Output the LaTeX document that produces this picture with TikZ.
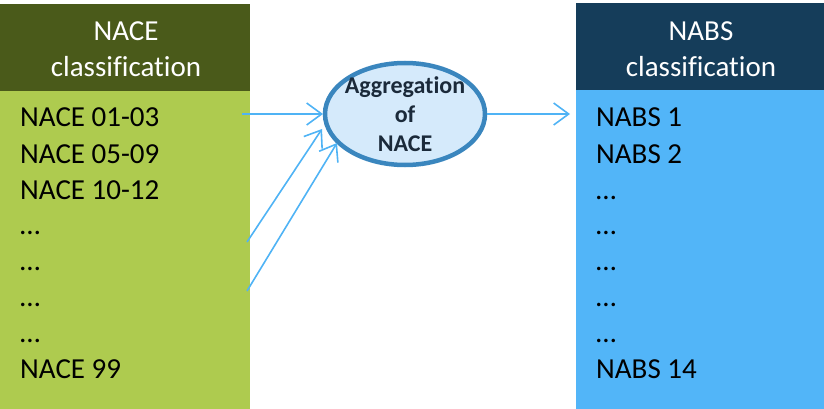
\documentclass[tikz,border=0pt]{standalone}
\usepackage{fontspec}
\setmainfont[Ligatures=NoCommon]{Carlito}
\usetikzlibrary{arrows.meta}
\definecolor{lhead}{HTML}{4A5A1A}
\definecolor{lbody}{HTML}{AECB4F}
\definecolor{rhead}{HTML}{153D5A}
\definecolor{rbody}{HTML}{52B5F8}
\definecolor{arr}{HTML}{4FB3F5}
\definecolor{ellfill}{HTML}{D5EAFB}
\definecolor{elldraw}{HTML}{3A86BE}
\definecolor{elltext}{HTML}{1B2A3A}
\begin{document}
\begin{tikzpicture}[x=1pt,y=-1pt,
  panel/.style={inner sep=0pt,outer sep=0pt,anchor=north west},
  headtext/.style={text=white,font=\fontsize{29}{35}\selectfont,anchor=base,inner sep=0pt},
  itemtext/.style={text=black,font=\fontsize{29}{35}\selectfont,anchor=base west,inner sep=0pt},
  conn/.style={draw=arr,line width=1.6pt,-{Straight Barb[length=15pt,width=22pt,line width=1.6pt]}},
  elltxt/.style={text=elltext,font=\bfseries\fontsize{24}{28}\selectfont,anchor=base,inner sep=0pt}]
\useasboundingbox (0,0) rectangle (824,409);
% panels
\node[panel,fill=lhead,minimum width=250pt,minimum height=88pt] (lh) at (0,4) {};
\node[panel,fill=lbody,minimum width=250pt,minimum height=318pt] (lb) at (0,91) {};
\node[panel,fill=rhead,minimum width=248pt,minimum height=87pt] (rh) at (576,3) {};
\node[panel,fill=rbody,minimum width=248pt,minimum height=319pt] (rb) at (576,90) {};
% headers
\node[headtext] (lh1) at (126,41) {NACE};
\node[headtext] (lh2) at (126,77) {classification};
\node[headtext] (rh1) at (701,41) {NABS};
\node[headtext] (rh2) at (701,77) {classification};
% left items
\node[itemtext] (l1) at (20,127) {NACE 01-03};
\node[itemtext] (l2) at (20,163) {NACE 05-09};
\node[itemtext] (l3) at (20,199) {NACE 10-12};
\node[itemtext] (l4) at (20,234) {…};
\node[itemtext] (l5) at (20,270) {…};
\node[itemtext] (l6) at (20,306) {…};
\node[itemtext] (l7) at (20,342) {…};
\node[itemtext] (l8) at (20,378) {NACE 99};
% right items
\node[itemtext] (r1) at (596,127) {NABS 1};
\node[itemtext] (r2) at (596,163) {NABS 2};
\node[itemtext] (r3) at (596,199) {…};
\node[itemtext] (r4) at (596,234) {…};
\node[itemtext] (r5) at (596,270) {…};
\node[itemtext] (r6) at (596,306) {…};
\node[itemtext] (r7) at (596,342) {…};
\node[itemtext] (r8) at (596,378) {NABS 14};
% ellipse
\draw[fill=ellfill,draw=elldraw,line width=4.5pt] (405,114) ellipse [x radius=80pt,y radius=51pt];
\coordinate (ell) at (405,114);
\node[elltxt] (e1) at (405,94) {Aggregation};
\node[elltxt] (e2) at (405,122) {of};
\node[elltxt] (e3) at (405,151) {NACE};
% connector points
\coordinate (a1s) at (242,114);
\coordinate (a1e) at (323,114);
\coordinate (a2s) at (247,242);
\coordinate (a2e) at (322,129);
\coordinate (a3s) at (247,291);
\coordinate (a3e) at (337,143);
\coordinate (a4s) at (487,114);
\coordinate (a4e) at (570,114);
\draw[conn] (a1s) -- (a1e);
\draw[conn] (a2s) -- (a2e);
\draw[conn] (a3s) -- (a3e);
\draw[conn] (a4s) -- (a4e);
\end{tikzpicture}
\end{document}
